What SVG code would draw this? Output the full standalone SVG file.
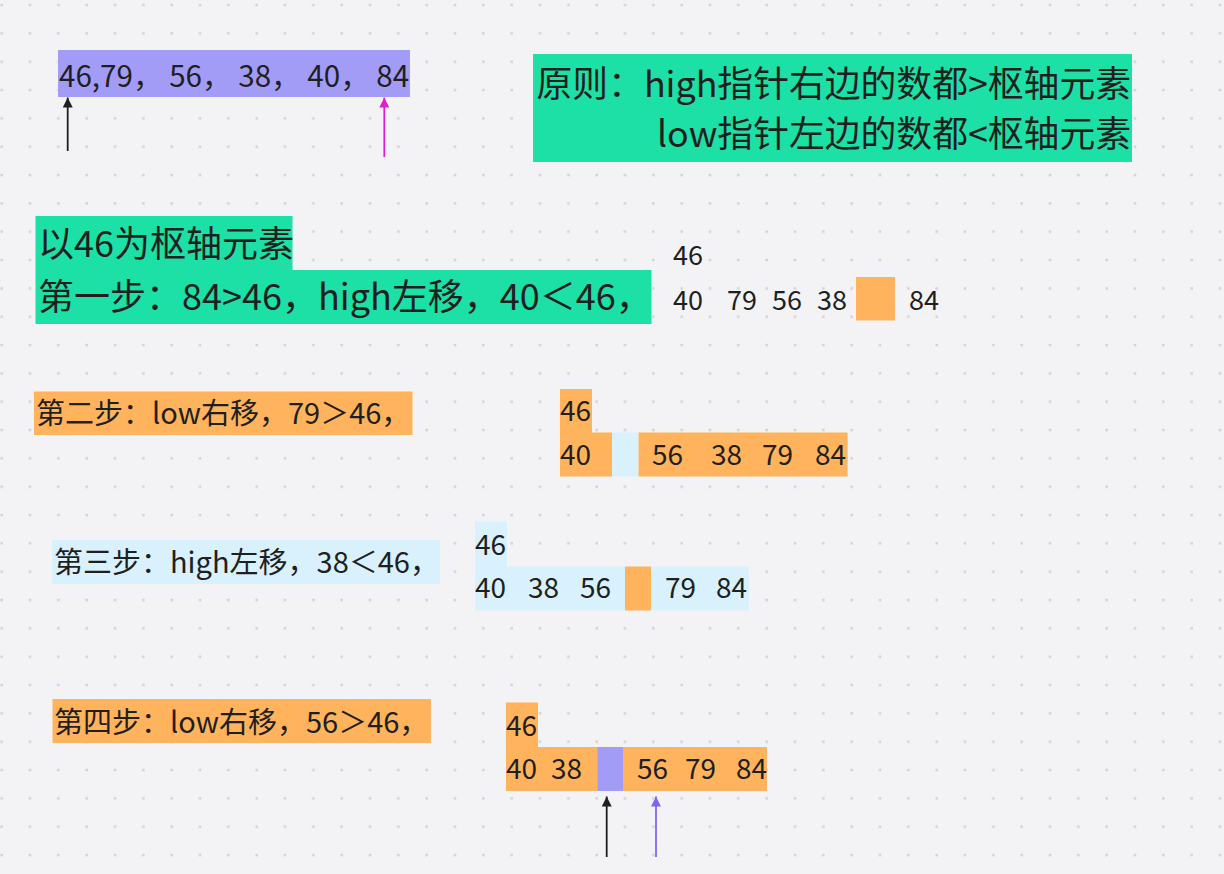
<svg xmlns="http://www.w3.org/2000/svg" width="1224" height="874" viewBox="0 0 1224 874">
<defs>
<pattern id="dots" patternUnits="userSpaceOnUse" x="0" y="0" width="28.333" height="28.333">
<rect x="0.45" y="3.8" width="2.5" height="2.5" fill="#d2d2d6"/>
</pattern>
<marker id="ah-black" markerUnits="userSpaceOnUse" markerWidth="11" markerHeight="10" refX="10" refY="5" orient="auto"><path d="M0,0 L10,5 L0,10 z" fill="#1f1f1f"/></marker>
<marker id="ah-magenta" markerUnits="userSpaceOnUse" markerWidth="11" markerHeight="10" refX="10" refY="5" orient="auto"><path d="M0,0 L10,5 L0,10 z" fill="#dd22cc"/></marker>
<marker id="ah-purple" markerUnits="userSpaceOnUse" markerWidth="11" markerHeight="10" refX="10" refY="5" orient="auto"><path d="M0,0 L10,5 L0,10 z" fill="#7f66f2"/></marker>
<style>
text{font-family:"Noto Sans CJK SC","Noto Sans",sans-serif;fill:#1f1f1f}
.big{font-size:36px}
.mid{font-size:28px}
.lbl{font-size:29px}
.num{font-size:27px}
.purple{fill:#a39cf7}
.green{fill:#1ce0a6}
.orange{fill:#ffb35c}
.blue{fill:#d9f1fc}
.conn{stroke-width:1.8;fill:none}
</style>
</defs>
<rect width="1224" height="874" fill="#f3f3f5"/>
<rect width="1224" height="874" fill="url(#dots)"/>

<g id="array">
<rect class="purple" x="58" y="50" width="352" height="47"/>
<text x="59" y="87" style="font-size:29.6px">46,79， 56， 38， 40， 84</text>
</g>

<g id="principle">
<rect class="green" x="533" y="54" width="599" height="108"/>
<text x="1131" y="97" text-anchor="end" style="font-size:35.8px">原则：high指针右边的数都&gt;枢轴元素</text>
<text x="1131" y="147" text-anchor="end" style="font-size:35.8px">low指针左边的数都&lt;枢轴元素</text>
</g>

<g id="pivot">
<rect class="green" x="35.5" y="216" width="257" height="54"/>
<text class="big" x="38" y="257">以46为枢轴元素</text>
</g>

<g id="step1">
<rect class="green" x="35.5" y="270" width="616" height="54"/>
<text class="big" x="38" y="310">第一步：84&gt;46，high左移，40＜46，</text>
</g>

<g id="step1-array">
<text class="num" x="673" y="265">46</text>
<rect class="orange" x="856" y="277" width="39" height="43.5"/>
<text class="num" x="673" y="310">40</text>
<text class="num" x="727" y="310">79</text>
<text class="num" x="772" y="310">56</text>
<text class="num" x="817" y="310">38</text>
<text class="num" x="909" y="310">84</text>
</g>

<g id="step2">
<rect class="orange" x="34" y="391.5" width="378.5" height="43.5"/>
<text class="lbl" x="36" y="424">第二步：low右移，79＞46，</text>
</g>

<g id="step2-array">
<rect class="orange" x="560" y="389" width="32" height="44"/>
<rect class="orange" x="560" y="432.5" width="52" height="44"/>
<rect class="blue" x="612" y="432.5" width="26.6" height="44"/>
<rect class="orange" x="638.6" y="432.5" width="209" height="44"/>
<text class="mid" x="560" y="421">46</text>
<text class="mid" x="560" y="465">40</text>
<text class="mid" x="652" y="465">56</text>
<text class="mid" x="711" y="465">38</text>
<text class="mid" x="762" y="465">79</text>
<text class="mid" x="815" y="465">84</text>
</g>

<g id="step3">
<rect class="blue" x="52" y="540" width="388" height="44"/>
<text class="lbl" x="54" y="573">第三步：high左移，38＜46，</text>
</g>

<g id="step3-array">
<rect class="blue" x="475" y="522" width="32" height="45"/>
<rect class="blue" x="475" y="566.5" width="274" height="44"/>
<rect class="orange" x="625" y="566.5" width="26" height="44"/>
<text class="mid" x="475" y="555">46</text>
<text class="mid" x="475" y="598">40</text>
<text class="mid" x="528" y="598">38</text>
<text class="mid" x="580" y="598">56</text>
<text class="mid" x="665" y="598">79</text>
<text class="mid" x="716" y="598">84</text>
</g>

<g id="step4">
<rect class="orange" x="52.5" y="699" width="378.5" height="44"/>
<text class="lbl" x="54" y="733">第四步：low右移，56＞46，</text>
</g>

<g id="step4-array">
<rect class="orange" x="506" y="702.5" width="32" height="45"/>
<rect class="orange" x="506" y="747" width="261" height="44"/>
<rect class="purple" x="597.5" y="747" width="25.5" height="44"/>
<text class="mid" x="506" y="736">46</text>
<text class="mid" x="506" y="779">40</text>
<text class="mid" x="551" y="779">38</text>
<text class="mid" x="637" y="779">56</text>
<text class="mid" x="685" y="779">79</text>
<text class="mid" x="736" y="779">84</text>
</g>

<g id="connectors">
<line class="conn" x1="67.7" y1="151" x2="67.7" y2="97.5" stroke="#1f1f1f" marker-end="url(#ah-black)"/>
<line class="conn" x1="384.3" y1="157" x2="384.3" y2="97.5" stroke="#dd22cc" marker-end="url(#ah-magenta)"/>
<line class="conn" x1="606.7" y1="857" x2="606.7" y2="796.5" stroke="#1f1f1f" marker-end="url(#ah-black)"/>
<line class="conn" x1="656" y1="857" x2="656" y2="796.5" stroke="#7f66f2" marker-end="url(#ah-purple)"/>
</g>
</svg>
